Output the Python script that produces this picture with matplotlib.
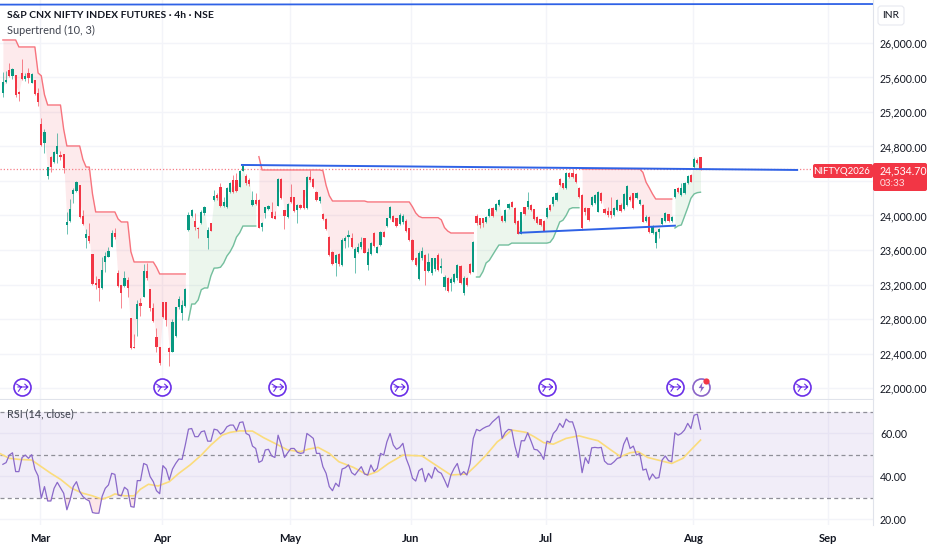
import numpy as np
import matplotlib
matplotlib.use('Agg')
import matplotlib.pyplot as plt
from matplotlib.patches import FancyBboxPatch
from matplotlib.path import Path

plt.rcParams['font.family'] = ['Lato', 'DejaVu Sans']

# candles, one value per 4h bar
opens = [25417,25544,25687,25618,25629,25436,25656,25583,25648,25540,
         25571,25417,25057,24837,24458,24682,24624,24713,24702,24713,
         23890,23940,24249,24288,24354,23998,23735,23762,23554,23213,
         23260,23155,23465,23523,23639,23801,23329,23194,23183,23252,
         22815,22479,22800,22982,23059,23360,23148,22923,22595,22479,
         22998,22998,22460,22421,22607,22935,22866,22955,23832,23998,
         23940,23859,23909,24025,23735,23909,24180,24238,24327,24110,
         24095,24276,24412,24412,24334,24520,24462,24412,24122,24180,
         24180,23863,24025,24075,24037,23998,24114,24419,24064,23986,
         24218,24211,24064,24122,24296,24083,24450,24419,24276,24168,
         24013,23959,23747,23580,23445,23553,23426,23708,23747,23742,
         23503,23581,23631,23736,23426,23554,23794,23569,23658,23813,
         23882,23967,23995,23967,23898,23929,23940,23852,23716,23504,
         23260,23504,23542,23357,23330,23376,23542,23388,23175,23272,
         23214,23233,23272,23415,23098,23272,23438,23349,23994,23967,
         23967,23928,23994,24090,24063,24122,23994,23940,24090,24152,
         24090,23936,23785,24095,24102,24122,24071,23986,23955,23936,
         23978,24122,24130,24180,24419,24373,24315,24489,24497,24481,
         24315,24238,24083,24083,24121,24141,24044,24257,24071,24052,
         24052,24006,24064,24122,24071,24122,24218,24257,24199,24133,
         24122,23936,23986,23801,23677,23805,23901,23940,24013,23940,
         24218,24322,24237,24264,24373,24469,24566,24643,24674]
highs = [25668,25679,25764,25706,25629,25440,25811,25648,25706,25648,
         25571,25475,25134,24999,24566,24690,24748,24953,24748,24713,
         24037,24187,24315,24404,24354,24064,23840,23909,23554,23299,
         23260,23515,23581,23639,23832,23851,23368,23194,23360,23291,
         22815,22626,23020,23039,23437,23445,23148,22989,22691,22479,
         22998,22998,22479,22800,22943,23067,23020,23155,24044,24075,
         24025,23870,24064,24114,23863,23909,24296,24265,24373,24218,
         24327,24385,24470,24489,24527,24585,24477,24431,24288,24265,
         24187,23928,24102,24122,24160,24052,24431,24431,24064,24141,
         24361,24218,24133,24133,24296,24458,24527,24431,24288,24226,
         24025,23967,23762,23588,23553,23561,23735,23762,23832,23800,
         23638,23685,23755,23736,23620,23697,23810,23650,23825,23825,
         23975,24115,24010,23975,24025,24015,23955,23860,23725,23520,
         23585,23640,23550,23562,23510,23512,23560,23504,23310,23285,
         23283,23330,23442,23430,23295,23285,23445,23705,24018,23975,
         23975,23998,24090,24100,24150,24195,24010,24075,24140,24165,
         24100,23945,24045,24100,24268,24130,24080,23995,23965,23945,
         24100,24135,24225,24275,24430,24380,24505,24500,24535,24490,
         24325,24245,24095,24090,24230,24255,24285,24270,24085,24100,
         24218,24095,24195,24150,24257,24355,24240,24265,24275,24190,
         24130,24000,23995,23890,23825,23850,23975,24035,24020,23995,
         24312,24335,24380,24385,24470,24480,24680,24662,24675]
lows = [25378,25532,25610,25579,25378,25332,25571,25563,25540,25532,
        25397,25270,24810,24729,24419,24508,24613,24613,24644,24489,
        23786,23929,24141,24276,23975,23890,23627,23685,23194,23144,
        23012,23148,23349,23515,23631,23724,23167,22924,23167,23059,
        22448,22464,22603,22838,23051,23252,22896,22769,22421,22266,
        22808,22719,22255,22413,22595,22912,22788,22943,23820,23986,
        23832,23735,23901,24006,23612,23820,24172,24180,24102,24095,
        24083,24265,24265,24276,24326,24515,24354,24342,24110,24122,
        23851,23824,23967,24064,23967,23955,24110,24191,23839,23975,
        24149,24044,23917,24071,24071,24071,24392,24315,24172,24141,
        23948,23832,23530,23426,23302,23418,23414,23620,23638,23620,
        23329,23562,23608,23562,23368,23546,23640,23560,23650,23745,
        23870,23960,23920,23870,23890,23905,23810,23700,23475,23410,
        23250,23484,23194,23350,23315,23360,23355,23330,23137,23115,
        23129,23214,23255,23205,23082,23180,23320,23340,23890,23860,
        23870,23915,23985,23985,24050,24110,23930,23930,24080,24095,
        23905,23780,23780,24005,24071,24050,23945,23905,23880,23815,
        23970,24050,24115,24170,24340,24305,24305,24440,24430,24380,
        24200,23835,24000,23935,24110,24130,24035,24150,24015,23985,
        23967,23990,24050,24040,24060,24110,24165,24075,24190,24120,
        23920,23925,23795,23790,23627,23742,23890,23930,23930,23925,
        24205,24265,24230,24255,24360,24385,24555,24600,24530]
closes = [25552,25571,25618,25695,25397,25405,25579,25618,25590,25637,
          25405,25312,24817,24972,24566,24566,24732,24810,24675,24547,
          23929,24071,24296,24392,23987,23898,23782,23704,23206,23194,
          23155,23368,23535,23589,23801,23755,23183,23097,23271,23155,
          22460,22464,22970,22955,23360,23271,22923,22780,22471,22286,
          22827,22788,22421,22769,22935,23028,22962,23148,24006,24064,
          23863,23843,24044,24095,23832,23820,24230,24207,24114,24160,
          24315,24373,24276,24288,24520,24578,24373,24361,24180,24133,
          23859,23917,24095,24114,23975,23959,24419,24199,23998,24129,
          24160,24056,24122,24083,24083,24450,24412,24326,24180,24218,
          23959,23839,23542,23438,23542,23438,23716,23735,23774,23638,
          23607,23639,23697,23569,23573,23678,23647,23631,23813,23755,
          23967,24095,23929,23879,24006,23995,23824,23716,23484,23426,
          23562,23593,23357,23465,23504,23504,23368,23415,23283,23125,
          23260,23322,23426,23214,23272,23194,23330,23697,23917,23890,
          23909,23986,24071,23994,24130,24180,23940,24063,24130,24102,
          23917,23785,24037,24013,24172,24063,23955,23917,23890,23824,
          24090,24063,24218,24265,24353,24315,24497,24450,24450,24392,
          24210,23851,24044,23947,24218,24237,24268,24170,24025,24006,
          24006,24083,24180,24056,24245,24342,24180,24083,24265,24180,
          23928,23986,23805,23878,23812,23840,23967,24025,23940,23986,
          24303,24276,24315,24373,24458,24392,24651,24612,24534.7]

# supertrend level per bar and which stretch is up or down
supertrend = [26035,26035,26035,26035,26035,25954,25954,25954,25954,25954,
              25954,25652,25620,25400,25281,25281,25281,25281,25281,25000,
              24806,24806,24806,24806,24806,24650,24562,24562,24250,24041,
              24041,24041,24041,24041,24041,24041,23960,23925,23925,23925,
              23580,23461,23461,23461,23461,23461,23461,23461,23400,23322,
              23322,23322,23322,23322,23322,23322,23322,23322,22788,22974,
              22974,23020,23140,23160,23160,23300,23390,23392,23400,23450,
              23530,23580,23650,23750,23800,23878,23878,23878,23878,23878,
              24682,24528,24528,24528,24528,24528,24528,24528,24528,24528,
              24528,24528,24528,24528,24528,24528,24528,24528,24528,24528,
              24520,24350,24230,24168,24168,24168,24168,24168,24168,24168,
              24168,24168,24168,24168,24157,24157,24157,24157,24157,24157,
              24157,24157,24157,24157,24157,24157,24157,24157,24100,24030,
              23990,23975,23975,23975,23975,23975,23975,23950,23860,23820,
              23797,23797,23797,23797,23797,23797,23797,23797,23287,23287,
              23350,23450,23480,23540,23600,23658,23658,23658,23658,23680,
              23680,23680,23680,23680,23680,23680,23680,23680,23680,23680,
              23680,23690,23740,23830,23925,23945,24000,24075,24090,24090,
              24090,24540,24540,24540,24540,24540,24540,24540,24540,24540,
              24540,24540,24540,24540,24540,24540,24540,24540,24540,24540,
              24500,24385,24320,24250,24191,24191,24191,24191,24191,24191,
              23855,23880,23890,23990,24090,24200,24250,24265,24270]
st_first = [0, 58, 80, 148, 181, 210]
st_last = [57, 79, 147, 180, 209, 218]
st_up = [False, True, False, True, False, True]

rsi = [45.6,46.4,49.9,51.0,42.2,42.2,48.8,49.9,48.4,50.1,
       43.3,40.2,29.8,35.2,28.5,28.5,34.4,37.2,34.7,32.1,
       24.4,29.0,35.2,37.5,32.9,30.6,29.3,28.5,23.1,22.8,
       22.8,30.6,34.4,36.0,41.4,40.9,31.3,30.9,34.9,33.7,
       25.9,25.6,38.0,38.0,46.0,45.3,39.9,37.5,33.3,31.9,
       45.0,43.4,38.3,43.4,46.0,48.1,47.9,54.6,62.0,62.3,
       58.5,58.5,60.8,61.2,56.4,56.4,62.0,61.6,59.7,60.8,
       63.1,63.9,63.9,61.2,65.1,65.4,60.0,59.2,54.1,53.0,
       46.5,47.3,52.3,52.6,49.5,48.8,59.2,54.6,48.8,51.0,
       53.0,53.0,51.2,50.7,51.0,60.0,58.9,57.7,50.7,50.7,
       44.5,41.4,35.2,33.3,36.8,35.2,43.4,44.0,45.3,41.7,
       40.6,42.6,44.5,41.1,40.6,45.3,42.2,43.7,50.7,49.9,
       56.1,60.0,54.6,52.6,53.5,55.4,48.4,44.5,39.1,37.8,
       42.6,43.7,37.5,41.4,39.1,44.2,42.2,41.4,38.3,34.9,
       40.6,43.7,46.0,40.6,42.2,40.6,46.0,57.7,61.9,61.2,
       62.3,63.1,63.6,65.4,66.7,68.1,57.7,60.5,61.9,61.6,
       54.1,48.8,56.6,56.6,60.3,56.6,52.6,52.3,50.7,47.9,
       56.4,55.8,60.0,61.6,64.7,62.8,66.7,65.4,65.4,60.8,
       52.3,41.7,48.7,46.0,53.3,53.5,53.3,53.5,47.1,45.7,
       45.6,46.8,48.4,48.8,55.0,58.1,53.0,54.1,49.9,50.7,
       42.9,43.4,38.3,41.1,39.1,39.4,47.6,49.5,47.3,46.8,
       60.3,59.2,60.0,61.6,64.7,62.3,68.5,69.0,62.0]
rsi_ma_bars = [-1,2,5,9,12,15,18,21.5,25,28,31,33.5,35,38,41,43,45.5,48.5,52,55,
               58.5,62,65,68.5,71,74,78,81.5,85.5,89,93,95.5,98.5,102,105,109.5,
               114,117,120.5,125,131,134.5,140,145,148,151,154.5,156,159,163.5,
               166,169,172,176,180,183,186,190,193,196,198.5,201.5,206,209,212.5,215,218]
rsi_ma = [50.7,48.4,47.9,47.6,44.5,41.4,38.6,34.4,32.1,30.9,29.3,30.6,31.8,30.9,30.9,34.0,36.3,35.5,37.5,41.4,
          45.3,49.9,54.6,59.2,60.5,61.2,61.1,58.0,55.0,52.3,51.5,52.7,53.5,50.7,46.8,44.2,
          40.6,42.2,46.0,49.9,49.5,46.0,40.6,41.1,45.3,49.9,56.1,57.7,61.6,60.5,
          58.5,55.7,55.0,57.7,58.9,57.7,56.6,52.3,49.2,51.0,51.5,48.8,47.1,46.0,48.4,52.3,56.9]

price_ticks = [26000,25600,25200,24800,24400,24000,23600,23200,22800,22400,22000]
rsi_ticks = [60, 40, 20]
month_bars = [11.75, 49.7, 89.7, 127.5, 169.7, 215.7, 257.8]
month_labels = ['Mar', 'Apr', 'May', 'Jun', 'Jul', 'Aug', 'Sep']
event_bars = [6, 49.7, 85.8, 123.8, 169.9, 209.9, 249.7]
alert_bar = 218
icon_price = 22012

top_line_x, top_line_y = [-0.9, 271.9], [26445, 26452]
upper_trend_x, upper_trend_y = [74.7, 248.2], [24586, 24528]
lower_trend_x, lower_trend_y = [161.6, 210], [23800, 23882]

RED, GREEN, BLUE, PURPLE = '#f23645', '#089981', '#2f62e6', '#6a2fe8'
GRID = '#f3f4f9'
TEXT = '#131722'

W, H = 932, 550
fig = plt.figure(figsize=(W / 100, H / 100), dpi=100)
ax = fig.add_axes([0, 1 - 399 / H, 873 / W, 399 / H])
ax2 = fig.add_axes([0, 1 - 525 / H, 873 / W, 125 / H], sharex=ax)

x = np.arange(len(closes))
o, h, l, c = map(np.array, (opens, highs, lows, closes))
st = np.array(supertrend, dtype=float)
mid = (o + c) / 2

for a in (ax, ax2):
    a.set_axisbelow(True)
    a.grid(True, color=GRID, lw=1)
    a.yaxis.tick_right()
    a.tick_params(length=0, labelcolor=TEXT, labelsize=7.6)
    for s in a.spines.values():
        s.set_visible(False)
    a.spines['right'].set_visible(True)
    a.spines['right'].set_color('#e0e3eb')

ax.set_xlim(-0.9, 271.9)
ax.set_ylim(21872.5, 26498.5)
ax.set_yticks(price_ticks)
# 24,400 sits behind the last price box, so it gets no label
ax.set_yticklabels(['' if v == 24400 else f'{v:,.2f}' for v in price_ticks])
ax.tick_params(axis='y', pad=5)
ax.tick_params(axis='x', labelbottom=False)
ax.spines['bottom'].set_visible(True)
ax.spines['bottom'].set_color('#e0e3eb')

# supertrend lines and shading to the candle bodies
for a0, b0, up in zip(st_first, st_last, st_up):
    xs = x[a0:b0 + 1]
    ax.fill_between(xs, st[a0:b0 + 1], mid[a0:b0 + 1], lw=0, zorder=1,
                    color='#4caf50' if up else RED, alpha=0.1)
    ax.plot(xs, st[a0:b0 + 1], color='#74bf9e' if up else '#f7747e', lw=1.0, zorder=2)

up_bar = c >= o
colors = np.where(up_bar, GREEN, RED)
ax.vlines(x, l, h, colors=colors, lw=0.7, alpha=0.6, zorder=3)
ax.bar(x, np.maximum(np.abs(c - o), 12), bottom=np.minimum(o, c), width=0.66,
       color=colors, lw=0, zorder=4)

ax.axhline(closes[-1], color='#f77f88', lw=0.9, ls=(0, (1, 1.6)), zorder=3)
ax.plot(top_line_x, top_line_y, color=BLUE, lw=1.3, zorder=5)
ax.plot(upper_trend_x, upper_trend_y, color=BLUE, lw=1.4, zorder=5)
ax.plot(lower_trend_x, lower_trend_y, color=BLUE, lw=1.4, zorder=5)

# event icons
arrow = Path([(-.6, 0), (.75, 0), (.3, .4), (.75, 0), (.3, -.4),
              (-.75, .4), (-.1, 0), (-.5, -.6), (-.1, 0)],
             [1, 2, 1, 2, 2, 1, 2, 1, 2])
bolt = Path([(.15, .8), (-.45, -.1), (-.05, -.1), (-.2, -.8), (.45, .1), (.05, .1), (.15, .8)])
ax.scatter(event_bars, [icon_price] * len(event_bars), s=150, facecolor='white',
           edgecolor=PURPLE, lw=1.2, zorder=6)
ax.scatter(event_bars, [icon_price] * len(event_bars), s=72, marker=arrow,
           facecolor='none', edgecolor=PURPLE, lw=0.8, zorder=7)
ax.scatter([alert_bar], [icon_price], s=150, facecolor='white', edgecolor='#8a64c8', lw=1.2, zorder=6)
ax.scatter([alert_bar], [icon_price], s=55, marker=bolt, color='#8a64c8', lw=0, zorder=7)

# RSI pane
ax2.set_ylim(17.3, 75.6)
ax2.set_yticks(rsi_ticks)
ax2.set_yticklabels([f'{v:.2f}' for v in rsi_ticks])
ax2.tick_params(axis='y', pad=5)
ax2.set_xticks(month_bars)
ax2.set_xticklabels(month_labels, fontweight='bold', fontsize=8.0)
ax2.tick_params(axis='x', pad=6)
ax2.axhspan(30, 70, color='#7e57c2', alpha=0.1, lw=0, zorder=1)
for lvl in (70, 50, 30):
    ax2.axhline(lvl, color='#8f8f98', lw=0.9, ls=(0, (3.2, 2.6)), zorder=2)
r = np.array(rsi)
ax2.fill_between(x, r, 30, where=r < 30, interpolate=True, color=RED, alpha=0.12, lw=0, zorder=2)
ax2.plot(rsi_ma_bars, rsi_ma, color='#fbdc7c', lw=1.2, zorder=3)
ax2.plot(x, r, color='#8a69c9', lw=0.9, zorder=4)

# pixel overlay for the labels
ov = fig.add_axes([0, 0, 1, 1])
ov.set_xlim(0, W)
ov.set_ylim(H, 0)
ov.axis('off')
ov.patch.set_alpha(0)

ov.text(7, 15, 'S&P CNX NIFTY INDEX FUTURES · 4h · NSE', fontsize=7.5, fontweight='bold', color=TEXT, va='center')
ov.text(7, 30, 'Supertrend (10, 3)', fontsize=7.9, color='#3f434e', va='center')
ov.text(7, 414, 'RSI (14, close)', fontsize=7.8, color='#3f434e', va='center')

ov.add_patch(FancyBboxPatch((878, 6), 26, 19, boxstyle='round,pad=0,rounding_size=3',
                            fc='white', ec='#e6e8ef', lw=0.8))
ov.text(891, 15.5, 'INR', fontsize=7.4, color=TEXT, ha='center', va='center')

ov.add_patch(FancyBboxPatch((813, 164), 60, 14, boxstyle='round,pad=0,rounding_size=2', fc=RED, lw=0))
ov.text(842, 171, 'NIFTYQ2026', fontsize=6.9, color='white', ha='center', va='center')
ov.add_patch(FancyBboxPatch((873, 163), 54, 28, boxstyle='round,pad=0,rounding_size=2', fc=RED, lw=0))
ov.text(880, 170.5, '24,534.70', fontsize=7.6, color='white', va='center')
ov.text(880, 183, '03:33', fontsize=7.2, color='#fde0e2', va='center')
ov.scatter([705.7], [381], s=20, color=RED, lw=0, zorder=5)

fig.savefig('out.png', dpi=100)
